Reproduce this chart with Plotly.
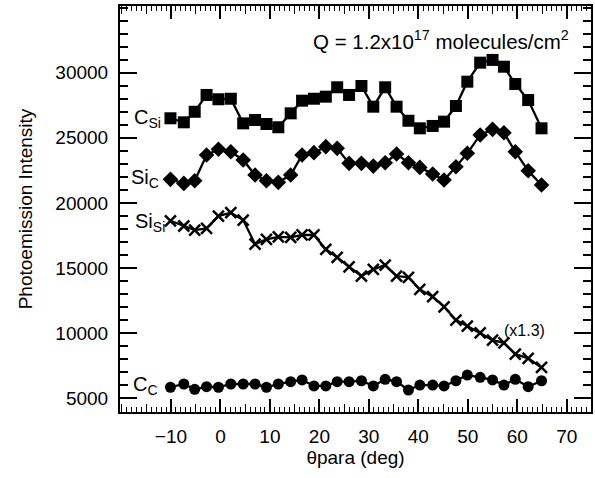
import plotly.graph_objects as go

theta = [-10.1, -7.4, -5.2, -2.8, -0.4, 2.1, 4.6, 7.0, 9.3, 11.7, 14.2, 16.5,
         18.9, 21.3, 23.6, 26.0, 28.5, 30.9, 33.3, 35.6, 38.0, 40.3, 42.9, 45.2,
         47.6, 49.9, 52.5, 55.0, 57.3, 59.6, 62.2, 64.9]

c_si = [26500, 26190, 27000, 28290, 27960, 28000, 26110, 26370, 26060, 25810,
        26880, 27850, 28000, 28160, 28880, 28290, 28980, 27390, 28880, 27390,
        26310, 25730, 25910, 26240, 27440, 29310, 30770, 30980, 30460, 29130,
        27900, 25730]

si_c = [21810, 21500, 21700, 23680, 24120, 23930, 23300, 22140, 21700, 21580,
        22140, 23680, 23860, 24320, 24190, 23040, 23040, 22830, 23090, 23760,
        23090, 22730, 22220, 21760, 22780, 23810, 25220, 25650, 25390, 23930,
        22470, 21380]

si_si = [18630, 18230, 17920, 18050, 18990, 19250, 18690, 16840, 17200, 17400,
         17360, 17540, 17540, 16440, 15820, 15100, 14390, 14900, 15230, 14390,
         14290, 13360, 12800, 12030, 11010, 10550, 10030, 9470, 9260, 8400,
         8070, 7370]

c_c = [5850, 6100, 5690, 5890, 5850, 6100, 6100, 6100, 5850, 6100,
       6280, 6410, 5950, 5950, 6280, 6280, 6350, 5950, 6460, 6280,
       5640, 6020, 6020, 5950, 6350, 6790, 6610, 6410, 6020, 6460,
       5890, 6350]

x_ticks = [-10, 0, 10, 20, 30, 40, 50, 60, 70]
y_ticks = [5000, 10000, 15000, 20000, 25000, 30000]
y_tick_text = ["5000", "10000", "15000", "20000", "25000", "30000"]

FONT = "Liberation Sans, Arial, Helvetica, sans-serif"
XR = [-20.3, 74.9]
YR = [3950, 35120]

fig = go.Figure()

series = [
    (c_si, dict(symbol="square", size=12, color="black")),
    (si_c, dict(symbol="diamond", size=12, color="black")),
    (si_si, dict(symbol="x-thin", size=11, color="black", line=dict(width=2.5, color="black"))),
    (c_c, dict(symbol="circle", size=11, color="black")),
]
for vals, mk in series:
    fig.add_trace(go.Scatter(x=theta, y=vals, mode="lines+markers",
                             line=dict(color="black", width=2.3), marker=mk,
                             showlegend=False, hoverinfo="skip"))

# helper trace for the overlay axis with the 5-degree medium ticks
fig.add_trace(go.Scatter(x=[None], y=[None], xaxis="x2", yaxis="y",
                         showlegend=False, hoverinfo="skip"))

fig.update_layout(
    width=595, height=478,
    margin=dict(l=120, r=4, t=6, b=66),
    paper_bgcolor="white", plot_bgcolor="white",
    font=dict(family=FONT, size=18, color="black"),
    xaxis=dict(range=XR, tickvals=x_ticks, ticks="inside", ticklen=13, tickwidth=1.5,
               tickcolor="black", showline=True, linewidth=2, linecolor="black",
               mirror="ticks", showgrid=False, zeroline=False, automargin=False,
               tickfont=dict(size=19), ticklabelstandoff=6,
               minor=dict(dtick=1, tick0=0, ticks="inside", ticklen=5, tickwidth=1,
                          tickcolor="black", showgrid=False),
               title=dict(text="θpara (deg)", font=dict(size=19), standoff=2)),
    xaxis2=dict(range=XR, overlaying="x", anchor="y", side="bottom", dtick=5, tick0=0,
                ticks="inside", ticklen=8, tickwidth=1, tickcolor="black",
                showticklabels=False, showgrid=False, zeroline=False, showline=False,
                mirror="ticks", automargin=False),
    yaxis=dict(range=YR, tickvals=y_ticks, ticktext=y_tick_text, ticks="inside",
               ticklen=17, tickwidth=1.5,
               tickcolor="black", showline=True, linewidth=2, linecolor="black",
               mirror="ticks", showgrid=False, zeroline=False, automargin=False,
               tickfont=dict(size=19), ticklabelstandoff=6,
               minor=dict(dtick=1000, tick0=0, ticks="inside", ticklen=8, tickwidth=1.5,
                          tickcolor="black", showgrid=False),
               title=dict(text="Photoemission Intensity", font=dict(size=19), standoff=18)),
)

ann = dict(showarrow=False, font=dict(family=FONT, size=20, color="black"),
           xref="x", yref="y", xanchor="right", yanchor="middle")
fig.add_annotation(text="C<sub>Si</sub>", x=-11.6, y=26500, **ann)
fig.add_annotation(text="Si<sub>C</sub>", x=-12.0, y=21900, **ann)
fig.add_annotation(text="Si<sub>Si</sub>", x=-10.9, y=18500, **ann)
fig.add_annotation(text="C<sub>C</sub>", x=-12.3, y=5950, **ann)
fig.add_annotation(text="(x1.3)", x=61.5, y=10240, showarrow=False,
                   font=dict(family=FONT, size=16, color="black"),
                   xref="x", yref="y", xanchor="center", yanchor="middle")
fig.add_annotation(text="Q = 1.2x10<sup>17</sup> molecules/cm<sup>2</sup>", x=70.8, y=32500,
                   showarrow=False, font=dict(family=FONT, size=20.5, color="black"),
                   xref="x", yref="y", xanchor="right", yanchor="middle")

fig.write_html("out.html", config={"displayModeBar": False},
               post_script="document.body.style.margin='0';document.body.style.padding='0';")
